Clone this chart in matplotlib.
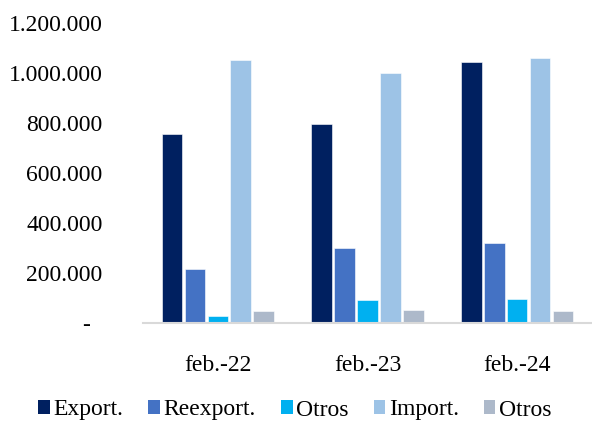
import matplotlib
matplotlib.use("Agg")
import matplotlib.pyplot as plt
from matplotlib.patches import Patch
from matplotlib.ticker import FuncFormatter
import numpy as np

categories = ["feb.-22", "feb.-23", "feb.-24"]
series_names = ["Export.", "Reexport.", "Otros", "Import.", "Otros"]
export_vals = [756000, 796000, 1044000]
reexport_vals = [216000, 300000, 320000]
otros1_vals = [28000, 92000, 97000]
import_vals = [1052000, 1000000, 1060000]
otros2_vals = [48000, 52000, 48000]
colors = ["#002060", "#4472C4", "#00B0F0", "#9DC3E6", "#ADB9CA"]
yticks = [0, 200000, 400000, 600000, 800000, 1000000, 1200000]

plt.rcParams['font.family'] = ['Liberation Serif', 'DejaVu Serif']

W, H = 592, 422
fig = plt.figure(figsize=(W / 100, H / 100), dpi=100)
ax = fig.add_axes([143 / W, 1 - 323 / H, (592 - 143) / W, 300 / H])

data = [export_vals, reexport_vals, otros1_vals, import_vals, otros2_vals]
x = np.arange(len(categories))
slot = 0.153
bw = 0.137
for i, (vals, c) in enumerate(zip(data, colors)):
    ax.bar(x + (i - 2) * slot, vals, width=bw, color=c, edgecolor='white', linewidth=0.4, zorder=2)

ax.set_xlim(-0.5, 2.5)
ax.set_ylim(0, 1200000)
ax.set_yticks(yticks)


def fmt(v, pos):
    if v == 0:
        return "-  "
    return f"{int(v):,}".replace(",", ".")


ax.yaxis.set_major_formatter(FuncFormatter(fmt))
ax.set_xticks(x)
ax.set_xticklabels(categories)
ax.tick_params(axis='y', length=0, pad=29, labelsize=17, colors='black')
ax.tick_params(axis='x', length=0, pad=23, labelsize=17, colors='black')
for s in ['top', 'right', 'left']:
    ax.spines[s].set_visible(False)
ax.spines['bottom'].set_color('#D9D9D9')
ax.spines['bottom'].set_linewidth(1.5)
ax.spines['bottom'].set_zorder(3)

handles = [Patch(facecolor=c, edgecolor='none') for c in colors]
fig.legend(handles, series_names, loc='center', bbox_to_anchor=(295 / W, 1 - 410 / H),
           ncol=5, frameon=False, fontsize=17, handlelength=0.5, handleheight=0.5,
           handletextpad=0.15, columnspacing=1.05, borderaxespad=0)

fig.savefig("out.png", dpi=100)
